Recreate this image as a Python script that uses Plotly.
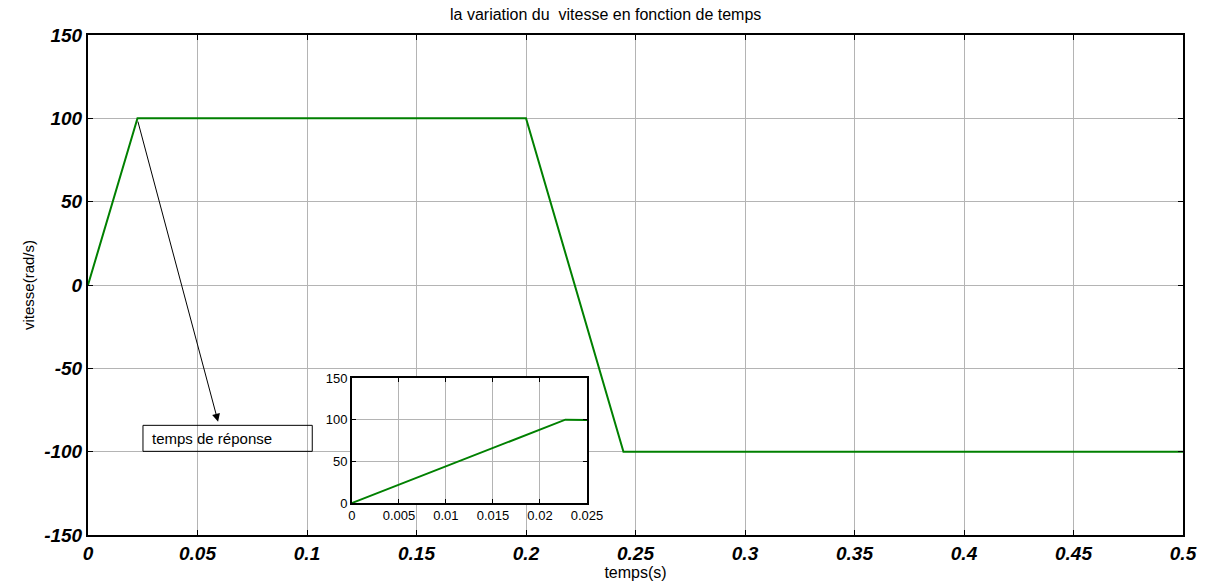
import plotly.graph_objects as go

# Main curve
t_main = [0, 0.0226, 0.2, 0.2445, 0.5]
v_main = [0, 100, 100, -100, -100]
# Inset (zoom on the rise)
t_zoom = [0, 0.0227, 0.025]
v_zoom = [0, 100, 99.5]

x_ticks = [0, 0.05, 0.1, 0.15, 0.2, 0.25, 0.3, 0.35, 0.4, 0.45, 0.5]
x_labels = ["0", "0.05", "0.1", "0.15", "0.2", "0.25", "0.3", "0.35", "0.4", "0.45", "0.5"]
y_ticks = [-150, -100, -50, 0, 50, 100, 150]
y_labels = ["-150", "-100", "-50", "0", "50", "100", "150"]
xi_ticks = [0, 0.005, 0.01, 0.015, 0.02, 0.025]
xi_labels = ["0", "0.005", "0.01", "0.015", "0.02", "0.025"]
yi_ticks = [0, 50, 100, 150]
yi_labels = ["0", "50", "100", "150"]

green = "#008000"
grid = "#b4b4b4"

fig = go.Figure()
fig.add_trace(go.Scatter(x=t_main, y=v_main, mode="lines",
                         line=dict(color=green, width=2), xaxis="x", yaxis="y",
                         showlegend=False))
fig.add_trace(go.Scatter(x=t_zoom, y=v_zoom, mode="lines",
                         line=dict(color=green, width=2), xaxis="x2", yaxis="y2",
                         showlegend=False))

main_tick_font = dict(family="Arial", size=19, color="black", weight="bold", style="italic")
fig.update_layout(
    width=1215, height=587,
    margin=dict(l=88, r=32, t=35, b=52),
    paper_bgcolor="white", plot_bgcolor="white",
    title=dict(text="la variation du  vitesse en fonction de temps",
               x=0.4985, xanchor="center", y=0.976, yanchor="middle",
               font=dict(family="Arial", size=16, color="black")),
    xaxis=dict(domain=[0, 1], range=[0, 0.5], tickvals=x_ticks, ticktext=x_labels,
               showgrid=True, gridcolor=grid, gridwidth=1, zeroline=False,
               showline=True, linecolor="black", linewidth=2, mirror="ticks",
               ticks="inside", ticklen=5, tickcolor="black",
               tickfont=main_tick_font,
               title=dict(text="temps(s)", font=dict(family="Arial", size=16, color="black"),
                          standoff=0)),
    yaxis=dict(domain=[0, 1], range=[-150, 150], tickvals=y_ticks, ticktext=y_labels,
               showgrid=True, gridcolor=grid, gridwidth=1, zeroline=False,
               showline=True, linecolor="black", linewidth=2, mirror="ticks",
               ticks="inside", ticklen=5, tickcolor="black",
               tickfont=main_tick_font,
               title=dict(text="vitesse(rad/s)", font=dict(family="Arial", size=15, color="black"),
                          standoff=6)),
    xaxis2=dict(domain=[0.241, 0.4557], anchor="y2", range=[0, 0.025],
                tickvals=xi_ticks, ticktext=xi_labels,
                showgrid=True, gridcolor=grid, zeroline=False,
                showline=True, linecolor="black", linewidth=1.5, mirror="ticks",
                ticks="inside", ticklen=4, tickcolor="black",
                tickfont=dict(family="Arial", size=13, color="black")),
    yaxis2=dict(domain=[0.064, 0.314], anchor="x2", range=[0, 150],
                tickvals=yi_ticks, ticktext=yi_labels,
                showgrid=True, gridcolor=grid, zeroline=False,
                showline=True, linecolor="black", linewidth=1.5, mirror="ticks",
                ticks="inside", ticklen=4, tickcolor="black",
                tickfont=dict(family="Arial", size=13, color="black")),
)

# Arrow pointing from the response point to the label
fig.add_annotation(x=0.0594, y=-82, xref="x", yref="y",
                   ax=0.0226, ay=99, axref="x", ayref="y",
                   text="", showarrow=True, arrowhead=2, arrowsize=1.6,
                   arrowwidth=1, arrowcolor="black")
# Label box (transparent, grid visible through it)
fig.add_shape(type="rect", xref="x", yref="y",
              x0=0.0251, x1=0.1024, y0=-99.8, y1=-84.2,
              line=dict(color="black", width=1), fillcolor="rgba(0,0,0,0)", layer="above")
fig.add_annotation(x=0.0283, y=-92.0, xref="x", yref="y",
                   text="temps de réponse", showarrow=False,
                   font=dict(family="Arial", size=15, color="black"),
                   xanchor="left", yanchor="middle")

fig.write_html("out.html")
